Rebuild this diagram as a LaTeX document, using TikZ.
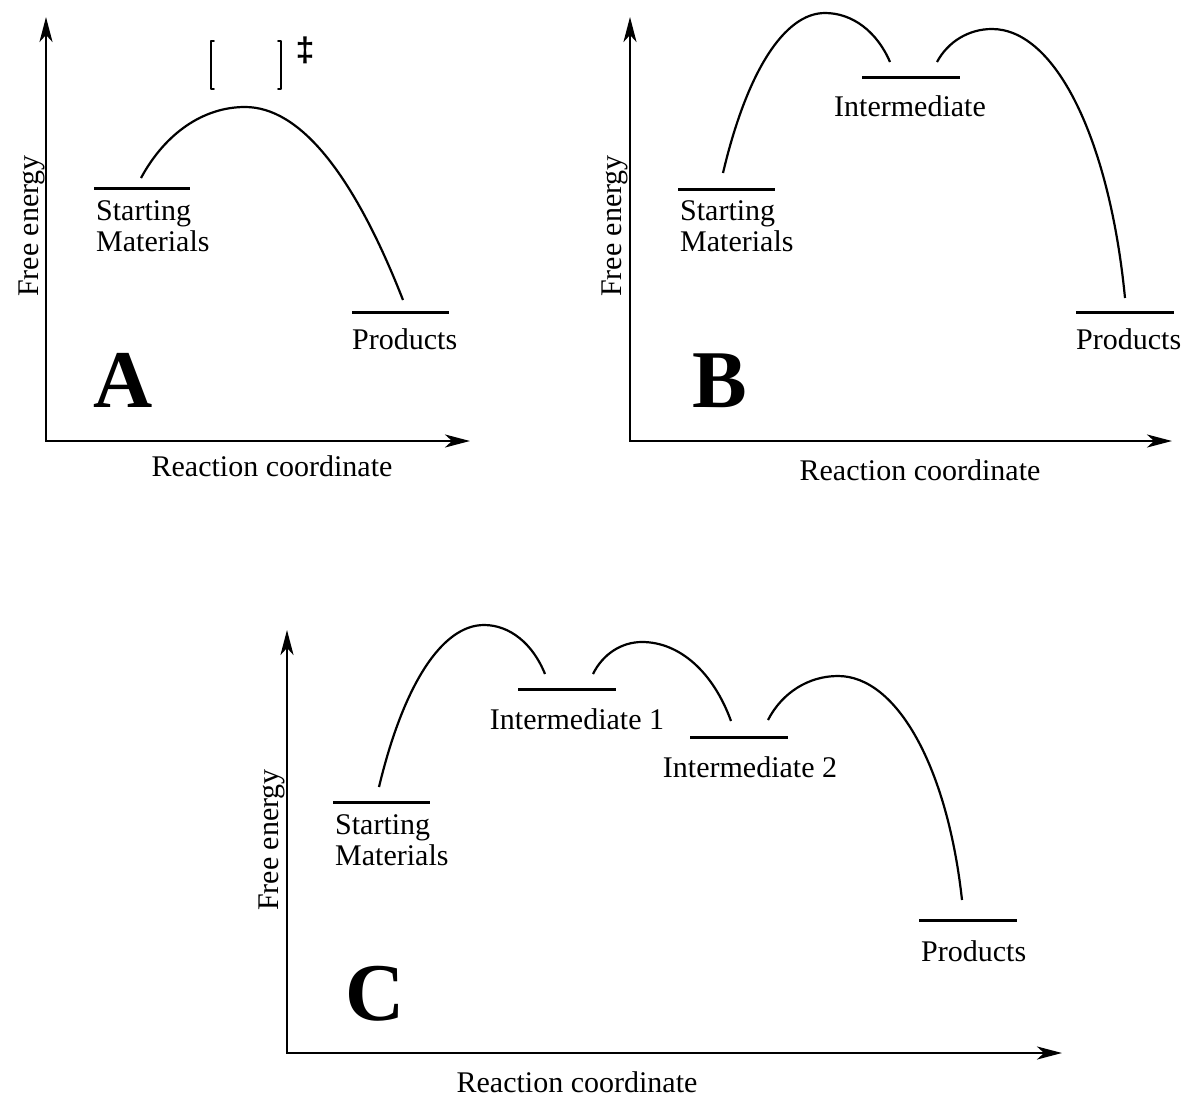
\documentclass[tikz,border=0pt]{standalone}
\usepackage{fontspec}
\setmainfont{Liberation Serif}
\newfontfamily\symfont{Liberation Sans}
\usetikzlibrary{arrows.meta}
% #1,#2 start; #3,#4 peak; #5,#6 end; #7 left bulge; #8 right bulge (0 = parabola, 1 = ellipse)
\newcommand\hump[8]{%
  \draw[curve] (#1,#2) .. controls ({#1+(1-#7)*(#3-#1)/3},{#2+(2/3-0.115*#7)*(#4-#2)}) and ({#3-(1/3+0.219*#7)*(#3-#1)},#4) .. (#3,#4)
    .. controls ({#3+(1/3+0.219*#8)*(#5-#3)},#4) and ({#5-(1-#8)*(#5-#3)/3},{#6+(2/3-0.115*#8)*(#4-#6)}) .. (#5,#6);}
\begin{document}
\begin{tikzpicture}[x=1pt,y=-1pt,
  axis/.style={line width=2.6pt,line join=miter,{Stealth[length=25pt,width=13pt,inset=7pt]}-{Stealth[length=25pt,width=13pt,inset=7pt]}},
  level/.style={line width=3pt},
  curve/.style={line width=2.2pt},
  thin/.style={line width=1.8pt,line cap=round,line join=round},
  lbl/.style={inner sep=0pt,font=\fontsize{30}{31}\selectfont},
  big/.style={inner sep=0pt,font=\fontsize{82}{82}\selectfont\bfseries},
]
\useasboundingbox (0,0) rectangle (1187,1098);

% ---------------- Panel A ----------------
\coordinate (oA) at (46,441);
\coordinate (yA) at (46,17);
\coordinate (xA) at (470,441);
\draw[axis] (yA) -- (oA) -- (xA);
\coordinate (smAl) at (94,188); \coordinate (smAr) at (190,188);
\draw[level] (smAl) -- (smAr);
\coordinate (prAl) at (352,312); \coordinate (prAr) at (449,312);
\draw[level] (prAl) -- (prAr);
\hump{141}{178}{245}{107}{403}{300}{0.3}{0.05}
\draw[thin] (214,41) -- (211,41) -- (211,89) -- (214,89);
\draw[thin] (278,41) -- (281,41) -- (281,89) -- (278,89);
\node[inner sep=0pt,font=\symfont\bfseries\fontsize{34}{34}\selectfont] (ddA) at (305,50) {‡};
\node[lbl,anchor=base west] (stA) at (96,220) {Starting};
\node[lbl,anchor=base west] (maA) at (96,251) {Materials};
\node[lbl,anchor=base west] (pA) at (352,349) {Products};
\node[lbl,anchor=base,rotate=90] (feA) at (38,226) {Free energy};
\node[lbl,anchor=base] (rcA) at (272,476) {Reaction coordinate};
\node[big,anchor=base west] (lA) at (93,407) {A};

% ---------------- Panel B ----------------
\coordinate (oB) at (630,441);
\coordinate (yB) at (630,17);
\coordinate (xB) at (1172,441);
\draw[axis] (yB) -- (oB) -- (xB);
\coordinate (smBl) at (678,189); \coordinate (smBr) at (775,189);
\draw[level] (smBl) -- (smBr);
\coordinate (inBl) at (862,77); \coordinate (inBr) at (960,77);
\draw[level] (inBl) -- (inBr);
\coordinate (prBl) at (1076,312); \coordinate (prBr) at (1174,312);
\draw[level] (prBl) -- (prBr);
\hump{723}{173}{825}{13}{890}{62}{0.3}{0.4}
\hump{937}{62}{992}{29}{1125}{298}{0.4}{0.65}
\node[lbl,anchor=base west] (stB) at (680,220) {Starting};
\node[lbl,anchor=base west] (maB) at (680,251) {Materials};
\node[lbl,anchor=base] (imB) at (910,116) {Intermediate};
\node[lbl,anchor=base west] (pB) at (1076,349) {Products};
\node[lbl,anchor=base,rotate=90] (feB) at (621,226) {Free energy};
\node[lbl,anchor=base] (rcB) at (920,480) {Reaction coordinate};
\node[big,anchor=base west] (lB) at (692,407) {B};

% ---------------- Panel C ----------------
\coordinate (oC) at (287,1053);
\coordinate (yC) at (287,630);
\coordinate (xC) at (1062,1053);
\draw[axis] (yC) -- (oC) -- (xC);
\coordinate (smCl) at (333,802); \coordinate (smCr) at (430,802);
\draw[level] (smCl) -- (smCr);
\coordinate (i1l) at (518,689); \coordinate (i1r) at (616,689);
\draw[level] (i1l) -- (i1r);
\coordinate (i2l) at (690,737); \coordinate (i2r) at (788,737);
\draw[level] (i2l) -- (i2r);
\coordinate (prCl) at (919,920); \coordinate (prCr) at (1017,920);
\draw[level] (prCl) -- (prCr);
\hump{379}{787}{484}{625}{545}{674}{0.3}{0.4}
\hump{593}{674}{642}{642}{731}{721}{0.4}{0.4}
\hump{768}{720}{838}{676}{962}{900}{0.4}{0.65}
\node[lbl,anchor=base west] (stC) at (335,834) {Starting};
\node[lbl,anchor=base west] (maC) at (335,865) {Materials};
\node[lbl,anchor=base] (im1) at (577,729) {Intermediate 1};
\node[lbl,anchor=base] (im2) at (750,777) {Intermediate 2};
\node[lbl,anchor=base west] (pC) at (921,961) {Products};
\node[lbl,anchor=base,rotate=90] (feC) at (278,840) {Free energy};
\node[lbl,anchor=base] (rcC) at (577,1092) {Reaction coordinate};
\node[big,anchor=base west] (lC) at (345,1020) {C};
\end{tikzpicture}
\end{document}
